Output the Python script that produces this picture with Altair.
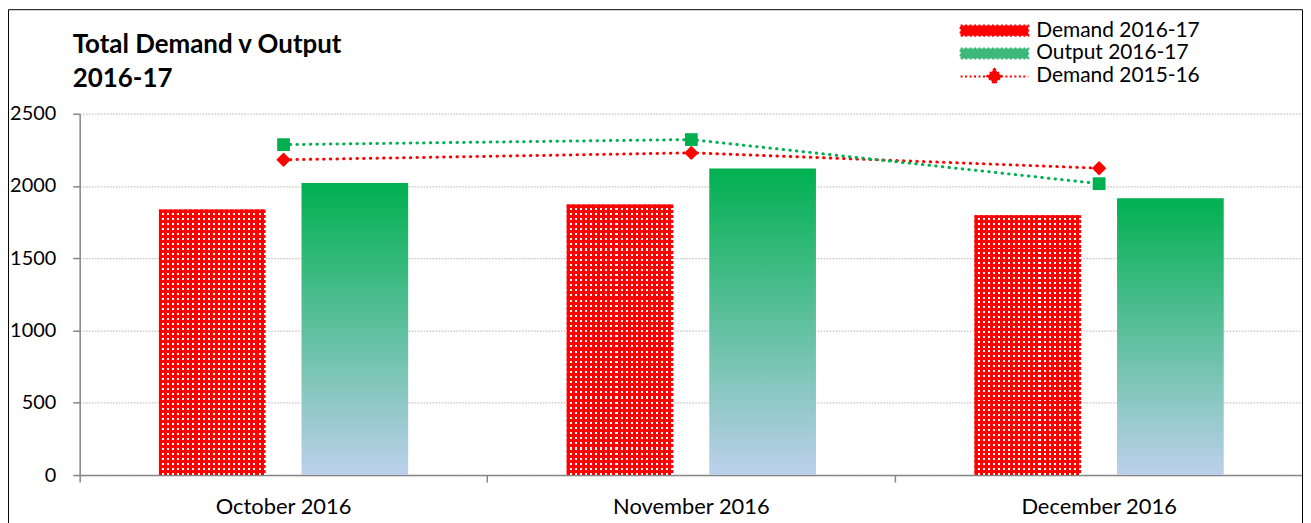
import math
import altair as alt
import pandas as pd

# ---------------- data ----------------
months = ["October 2016", "November 2016", "December 2016"]
demand_1617 = [1837, 1871, 1798]
output_1617 = [2020, 2121, 1915]
demand_1516 = [2181, 2229, 2123]
output_1516 = [2286, 2321, 2016]
bar_series = ["Demand 2016-17", "Output 2016-17"]
legend_labels = ["Demand 2016-17", "Output 2016-17", "Demand 2015-16"]
y_ticks = [0, 500, 1000, 1500, 2000, 2500]
title_text = "Total Demand v Output\n2016-17"

# ---------------- style ----------------
FONT = "Lato"
RED = "#ff0000"
GREEN = "#00b050"
AXIS_GREY = "#868686"
W, H = 1229, 363
LFS = 21  # legend label font size

demand_df = pd.DataFrame({"month": months, "series": bar_series[0], "value": demand_1617})
output_df = pd.DataFrame({"month": months, "series": bar_series[1], "value": output_1617})
d1516_df = pd.DataFrame({"month": months, "value": demand_1516})
o1516_df = pd.DataFrame({"month": months, "value": output_1516})
legend_df = pd.DataFrame({"series": legend_labels})
frame_df = pd.DataFrame({"k": [0]})
title_df = pd.DataFrame({"t": [title_text]})

x_scale = alt.Scale(domain=months, paddingInner=0, paddingOuter=0)
y_scale = alt.Scale(domain=[0, 2500], nice=False)
xo_scale = alt.Scale(domain=bar_series, paddingInner=0.2517, paddingOuter=0.556)

x_axis = alt.Axis(title=None, bandPosition=0, labelAngle=0,
                  tickSize=7, tickColor=AXIS_GREY, tickWidth=1.5,
                  domainColor=AXIS_GREY, domainWidth=1.5, grid=False,
                  labelFont=FONT, labelFontSize=22, labelColor="black", labelPadding=15)
y_axis = alt.Axis(title=None, values=y_ticks, format="d", tickSize=7, tickColor=AXIS_GREY, tickWidth=1.5,
                  domainColor=AXIS_GREY, domainWidth=1.5, grid=True,
                  gridColor="#c0c0c0", gridDash=[1.5, 1.5], gridWidth=1.2,
                  labelFont=FONT, labelFontSize=20, labelColor="black", labelPadding=17)

X = alt.X("month:N", scale=x_scale, sort=months, axis=x_axis)
Y = alt.Y("value:Q", scale=y_scale, axis=y_axis)
XO = alt.XOffset("series:N", scale=xo_scale, sort=bar_series)


def stripes(n, c1, c2, frac, horizontal):
    stops = []
    for i in range(n):
        a, m, b = i / n, (i + frac) / n, (i + 1) / n
        stops += [alt.GradientStop(color=c1, offset=a), alt.GradientStop(color=c1, offset=m),
                  alt.GradientStop(color=c2, offset=m), alt.GradientStop(color=c2, offset=b)]
    if horizontal:
        return alt.LinearGradient(gradient="linear", stops=stops, x1=0, x2=1, y1=0, y2=0)
    return alt.LinearGradient(gradient="linear", stops=stops, x1=0, x2=0, y1=0, y2=1)


demand_base = alt.Chart(demand_df).mark_bar(fill=stripes(21, RED, "white", 0.6, True)).encode(
    x=X, xOffset=XO, y=Y)
demand_top = alt.Chart(demand_df).mark_bar(fill=stripes(53, RED, "transparent", 0.6, False)).encode(
    x=X, xOffset=XO, y=Y)

green_grad = alt.LinearGradient(gradient="linear", x1=0, x2=0, y1=0, y2=1,
                                stops=[alt.GradientStop(color=GREEN, offset=0),
                                       alt.GradientStop(color="#bdd0ec", offset=1)])
output_bars = alt.Chart(output_df).mark_bar(fill=green_grad).encode(x=X, xOffset=XO, y=Y)

red_line = alt.Chart(d1516_df).mark_line(color=RED, strokeWidth=3, strokeCap="round",
                                         strokeDash=[0.5, 6.2]).encode(x=X, y=Y)
red_pts = alt.Chart(d1516_df).mark_point(shape="diamond", filled=True, size=210,
                                         color=RED, opacity=1).encode(x=X, y=Y)
green_line = alt.Chart(o1516_df).mark_line(color=GREEN, strokeWidth=3, strokeCap="round",
                                           strokeDash=[0.5, 6.2]).encode(x=X, y=Y)
green_pts = alt.Chart(o1516_df).mark_point(shape="square", filled=True, size=165,
                                           color=GREEN, opacity=1).encode(x=X, y=Y)

# legend (built from an invisible layer carrying the series names)
off = max(math.ceil(12 + 2), LFS)
cx = off / 2.0
r = 6.0
u = lambda px: round((px - cx) / r, 3)
swatch = f"M{u(0)},-0.85H{u(68)}V0.85H{u(0)}Z"
dc = u(34)
line_sym = f"M{u(0)},0H{u(68)}M{dc},-1.25L{round(dc + 1.25, 3)},0L{dc},1.25L{round(dc - 1.25, 3)},0Z"
leg = alt.Legend(title=None, orient="none", legendX=885, legendY=-94, padding=0,
                 labelFont=FONT, labelFontSize=LFS, labelColor="black", labelLimit=400,
                 labelOffset=76 - off, symbolSize=144, symbolStrokeWidth=2, symbolDash=[2, 2.5],
                 symbolOpacity=1, rowPadding=1)
leg_colors = [RED, "#3cb878", RED]
legend_layer = alt.Chart(legend_df).mark_point(opacity=0).encode(
    fill=alt.Fill("series:N", sort=legend_labels,
                  scale=alt.Scale(domain=legend_labels, range=leg_colors), legend=leg),
    stroke=alt.Stroke("series:N", sort=legend_labels,
                      scale=alt.Scale(domain=legend_labels, range=leg_colors), legend=leg),
    shape=alt.Shape("series:N", sort=legend_labels,
                    scale=alt.Scale(domain=legend_labels, range=[swatch, swatch, line_sym]), legend=leg),
)

title_layer = alt.Chart(title_df).mark_text(
    font=FONT, fontSize=26, fontWeight="bold", color="black", align="left",
    baseline="alphabetic", lineBreak="\n", lineHeight=34
).encode(text="t:N", x=alt.value(-7), y=alt.value(-61))

frame = alt.Chart(frame_df).mark_rect(fill="transparent", stroke="black", strokeWidth=1).encode(
    x=alt.value(-71.5), x2=alt.value(W - 0.5), y=alt.value(-104.5), y2=alt.value(H + 300))

chart = alt.layer(
    frame, title_layer, demand_base, demand_top, output_bars, red_line, red_pts,
    green_line, green_pts, legend_layer
).properties(
    width=W, height=H,
    autosize="none",
    padding={"left": 72, "top": 105, "right": 0, "bottom": 50},
).configure_view(stroke="transparent")

chart.save("out.html", embed_options={"renderer": "svg", "actions": False})
